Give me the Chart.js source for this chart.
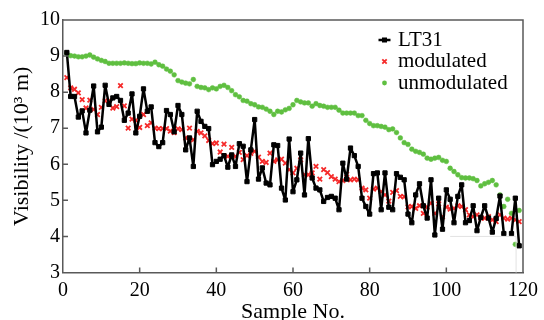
<!DOCTYPE html>
<html>
<head>
<meta charset="utf-8">
<script src="https://cdn.jsdelivr.net/npm/chart.js@4.4.1/dist/chart.umd.min.js"></script>
<style>
  html, body { margin: 0; padding: 0; background: #fff; }
</style>
</head>
<body>
<canvas id="chart" width="544" height="320"></canvas>
<script>
// values, sample 1..119
const lt31 = [
  9.10, 7.88, 7.88, 7.31, 7.48, 6.87, 7.50, 8.17, 6.90, 7.03,
  8.19, 7.66, 7.84, 7.88, 7.77, 7.22, 7.42, 7.95, 6.87, 7.33,
  8.09, 7.47, 7.59, 6.60, 6.49, 6.60, 7.49, 7.38, 6.90, 7.63,
  7.38, 6.40, 6.73, 5.94, 7.47, 7.19, 7.05, 6.99, 5.99, 6.08,
  6.14, 6.24, 5.92, 6.26, 5.94, 6.57, 6.50, 5.52, 6.40, 7.24,
  5.59, 5.90, 5.48, 5.43, 6.54, 6.52, 5.34, 5.01, 6.70, 5.24,
  5.57, 6.31, 5.15, 6.71, 5.62, 5.34, 5.29, 4.97, 5.08, 5.11,
  5.06, 4.74, 6.03, 5.59, 6.45, 6.24, 5.94, 5.06, 4.83, 4.62,
  5.74, 5.76, 4.74, 5.76, 4.81, 4.74, 5.74, 5.64, 5.57, 4.62,
  4.38, 5.15, 5.46, 4.85, 4.51, 5.57, 4.04, 5.06, 4.20, 5.29,
  5.03, 4.38, 5.11, 5.43, 4.38, 4.44, 4.85, 4.16, 4.53, 4.85,
  4.51, 4.12, 4.50, 5.12, 4.08, null, 4.08, 5.06, 3.74
];
const modulated = [
  8.40, 8.12, 8.08, 7.98, 7.79, 7.56, 7.78, 7.52, 7.38, 7.58,
  7.76, 7.76, 7.56, 7.60, 8.18, 7.62, 7.00, 7.25, 7.22, 7.02,
  7.38, 7.07, 7.15, 7.00, 6.99, 6.99, 6.99, 6.92, 6.88, 6.98,
  6.96, 6.73, 7.00, 6.68, 6.91, 6.87, 6.79, 6.66, 6.57, 6.59,
  6.34, 6.56, 6.22, 6.47, 6.22, 6.33, 6.13, 6.24, 6.30, 6.36,
  6.20, 6.08, 6.05, 6.31, 6.08, 6.12, 6.14, 6.03, 5.85, 5.76,
  5.89, 6.12, 5.71, 5.71, 5.76, 5.94, 5.59, 5.85, 5.77, 5.66,
  5.59, 5.52, 5.55, 5.73, 5.57, 5.59, 5.57, 5.34, 5.29, 5.06,
  5.31, 5.34, 5.24, 5.15, 4.98, 5.22, 5.27, 5.11, 5.10, 4.82,
  4.83, 4.78, 4.85, 4.64, 4.81, 4.92, 4.64, 4.90, 4.55, 4.81,
  4.76, 4.78, 4.85, 4.83, 4.74, 4.60, 4.55, 4.60, 4.51, 4.51,
  4.55, 4.46, 4.41, 4.60, 4.51, 4.48, 4.51, 4.46, 4.41
];
const unmodulated = [
  9.07, 9.01, 9.00, 8.98, 8.98, 9.00, 9.03, 8.97, 8.92, 8.88,
  8.85, 8.80, 8.80, 8.80, 8.80, 8.81, 8.80, 8.79, 8.79, 8.81,
  8.80, 8.80, 8.78, 8.83, 8.76, 8.72, 8.64, 8.58, 8.48, 8.32,
  8.28, 8.25, 8.23, 8.35, 8.16, 8.13, 8.12, 8.07, 8.12, 8.09,
  8.16, 8.19, 8.13, 8.04, 7.93, 7.87, 7.77, 7.75, 7.68, 7.65,
  7.59, 7.58, 7.53, 7.47, 7.38, 7.47, 7.45, 7.51, 7.55, 7.65,
  7.77, 7.73, 7.70, 7.70, 7.61, 7.68, 7.63, 7.61, 7.58, 7.58,
  7.58, 7.50, 7.42, 7.42, 7.42, 7.42, 7.35, 7.35, 7.22, 7.13,
  7.07, 7.07, 7.05, 7.03, 6.96, 6.98, 6.88, 6.73, 6.60, 6.55,
  6.42, 6.36, 6.33, 6.28, 6.17, 6.14, 6.17, 6.19, 6.11, 6.08,
  5.89, 5.80, 5.71, 5.63, 5.62, 5.62, 5.60, 5.55, 5.40, 5.46,
  5.50, 5.55, 5.43, 5.15, 4.83, 5.03, 4.64, 3.78, 4.72
];
const xTicks = [0, 20, 40, 60, 80, 100, 120];
const yTicks = [3, 4, 5, 6, 7, 8, 9, 10];

const FONT = '"Liberation Serif", "Times New Roman", serif';
const AXIS = '#595959';
const RED = '#f52a2a';
const GREEN = '#5fbf40';

const toXY = arr => arr.map((v, i) => ({ x: i + 1, y: v }));

// frame, inward ticks and the legend in the upper right
const decor = {
  id: 'decor',
  afterDraw(chart) {
    const { ctx, chartArea: a, scales: { x, y } } = chart;
    ctx.save();
    ctx.strokeStyle = AXIS;
    ctx.lineWidth = 1.5;
    ctx.beginPath();
    ctx.moveTo(a.left, a.top); ctx.lineTo(a.right, a.top); ctx.lineTo(a.right, a.bottom);
    xTicks.slice(1, -1).forEach(t => {
      const px = x.getPixelForValue(t);
      ctx.moveTo(px, a.bottom); ctx.lineTo(px, a.bottom - 5);
    });
    yTicks.slice(1, -1).forEach(t => {
      const py = y.getPixelForValue(t);
      ctx.moveTo(a.left, py); ctx.lineTo(a.left + 5, py);
    });
    ctx.stroke();

    // faint box lines near the bottom right
    ctx.strokeStyle = '#e2e2e2';
    ctx.lineWidth = 1;
    ctx.beginPath();
    ctx.moveTo(x.getPixelForValue(101), y.getPixelForValue(4.0));
    ctx.lineTo(x.getPixelForValue(118.2), y.getPixelForValue(4.0));
    ctx.lineTo(x.getPixelForValue(118.2), a.bottom);
    ctx.stroke();

    // legend
    const lx = 384.5, tx = 398, rows = [40, 61.5, 83];
    ctx.fillStyle = '#000';
    ctx.strokeStyle = '#000';
    ctx.lineWidth = 2.5;
    ctx.beginPath(); ctx.moveTo(lx - 6, rows[0]); ctx.lineTo(lx + 6, rows[0]); ctx.stroke();
    ctx.fillRect(lx - 2.5, rows[0] - 2.5, 5, 5);

    ctx.strokeStyle = RED;
    ctx.lineWidth = 1.8;
    ctx.beginPath();
    ctx.moveTo(lx - 2.2, rows[1] - 2.2); ctx.lineTo(lx + 2.2, rows[1] + 2.2);
    ctx.moveTo(lx + 2.2, rows[1] - 2.2); ctx.lineTo(lx - 2.2, rows[1] + 2.2);
    ctx.stroke();

    ctx.fillStyle = GREEN;
    ctx.beginPath(); ctx.arc(lx, rows[2], 2.4, 0, Math.PI * 2); ctx.fill();

    ctx.fillStyle = '#000';
    ctx.font = '21px ' + FONT;
    ctx.textBaseline = 'middle';
    chart.data.datasets.forEach((ds, i) => ctx.fillText(ds.label, tx, rows[i]));
    ctx.restore();
  }
};

new Chart(document.getElementById('chart'), {
  type: 'line',
  data: {
    datasets: [
      {
        label: 'LT31',
        data: toXY(lt31),
        borderColor: '#000',
        backgroundColor: '#000',
        borderWidth: 2.5,
        borderJoinStyle: 'round',
        pointStyle: 'rect',
        pointRadius: 3,
        pointBorderWidth: 1,
        spanGaps: false,
        tension: 0
      },
      {
        label: 'modulated',
        data: toXY(modulated),
        showLine: false,
        borderColor: RED,
        backgroundColor: RED,
        pointStyle: 'crossRot',
        pointRadius: 3.2,
        pointBorderWidth: 1.8
      },
      {
        label: 'unmodulated',
        data: toXY(unmodulated),
        showLine: false,
        borderColor: GREEN,
        backgroundColor: GREEN,
        pointStyle: 'circle',
        pointRadius: 2.4,
        pointBorderWidth: 0.5
      }
    ]
  },
  options: {
    responsive: false,
    animation: false,
    devicePixelRatio: 1,
    layout: { padding: { top: 20, right: 15, left: 0, bottom: 0 } },
    plugins: { legend: { display: false }, tooltip: { enabled: false } },
    scales: {
      x: {
        type: 'linear',
        min: 0,
        max: 120,
        afterBuildTicks: s => { s.ticks = xTicks.map(v => ({ value: v })); },
        ticks: { font: { family: FONT, size: 20 }, color: '#000', padding: 6, maxRotation: 0 },
        grid: { display: false, drawTicks: false },
        border: { color: AXIS, width: 1.5 },
        title: {
          display: true, text: 'Sample No.', color: '#000',
          font: { family: FONT, size: 22, lineHeight: 0.68 }, padding: { top: 0, bottom: 0 }
        },
        afterFit: s => { s.height = 47.5; }
      },
      y: {
        min: 3,
        max: 10,
        afterBuildTicks: s => { s.ticks = yTicks.map(v => ({ value: v })); },
        ticks: { font: { family: FONT, size: 20 }, color: '#000', padding: 3 },
        grid: { display: false, drawTicks: false },
        border: { color: AXIS, width: 1.5 },
        title: {
          display: true, text: 'Visibility /(10³ m)', color: '#000',
          font: { family: FONT, size: 22, lineHeight: 1.2 }, padding: { top: 9, bottom: 0 }
        },
        afterFit: s => { s.width = 63; }
      }
    }
  },
  plugins: [decor]
});
</script>
</body>
</html>
